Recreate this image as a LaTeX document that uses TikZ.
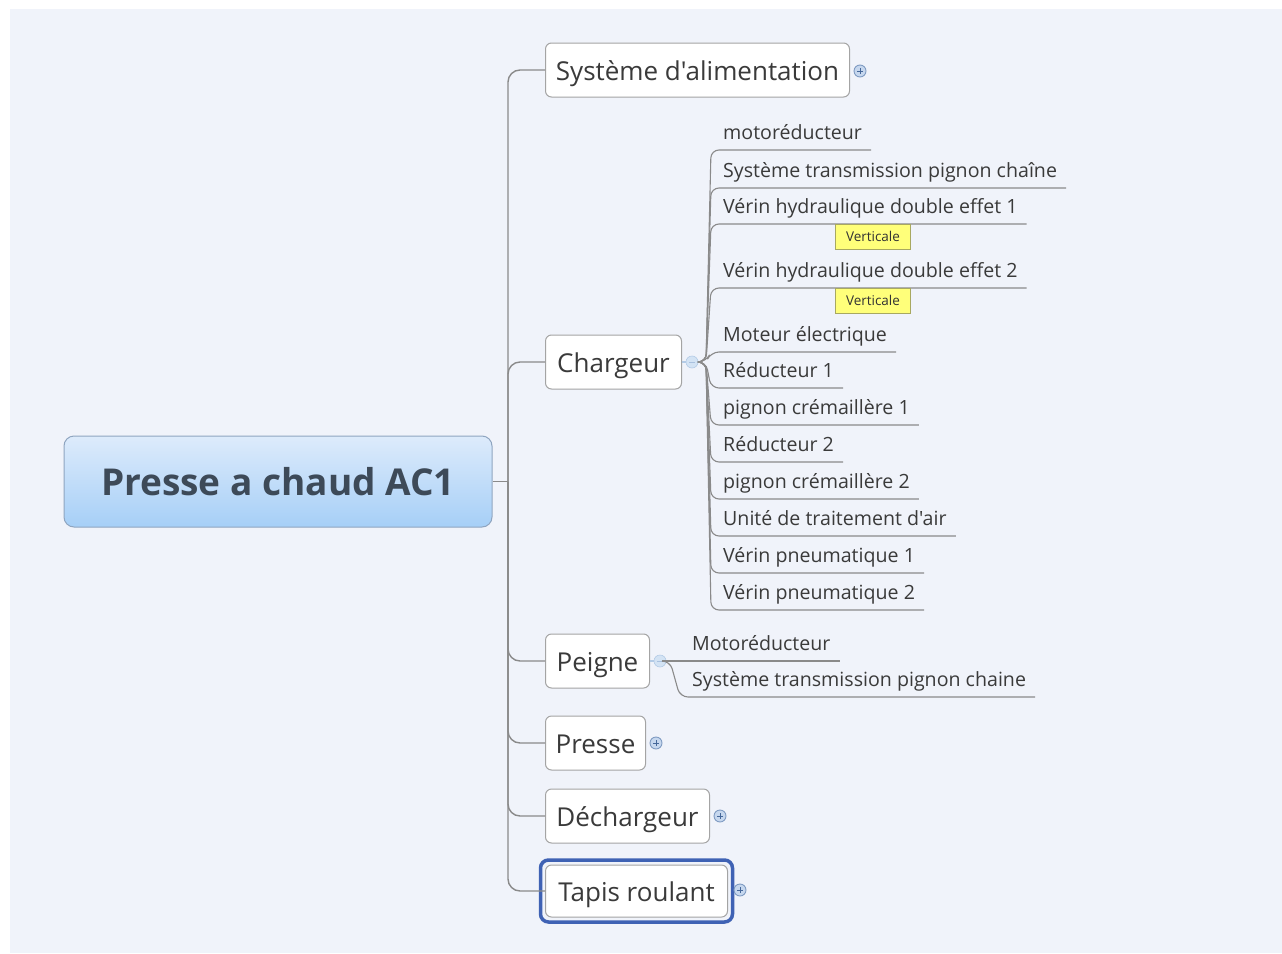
\documentclass[tikz,border=0pt]{standalone}
\usepackage{fontspec}
\setmainfont{Open Sans}[Ligatures=TeXOff]
\usetikzlibrary{calc}
\definecolor{bgc}{HTML}{F0F3FA}
\definecolor{ink}{HTML}{3A3A3A}
\definecolor{rootink}{HTML}{3D4A58}
\definecolor{rootedge}{HTML}{8FA5C0}
\definecolor{roottop}{HTML}{DDEBFB}
\definecolor{rootbot}{HTML}{A6CFF7}
\definecolor{boxedge}{HTML}{A4A4A4}
\definecolor{linegrey}{HTML}{8A8A8A}
\definecolor{selblue}{HTML}{3F62B4}
\definecolor{icfill}{HTML}{C6D7EE}
\definecolor{icedge}{HTML}{7F9BC2}
\definecolor{icmark}{HTML}{46689A}
\definecolor{hubfill}{HTML}{D3E3F4}
\definecolor{hubline}{HTML}{B3CBE6}
\definecolor{notefill}{HTML}{FFFF7A}
\definecolor{noteedge}{HTML}{A8A860}
\begin{document}
\begin{tikzpicture}[x=1pt,y=-1pt,
  root/.style={draw=rootedge, line width=1pt, rounded corners=10pt,
    top color=roottop, bottom color=rootbot, minimum width=428pt,
    minimum height=91pt, text=rootink,
    font=\fontsize{37}{44}\selectfont\bfseries},
  branch/.style={draw=boxedge, line width=1pt, fill=white, rounded corners=6pt,
    anchor=west, minimum height=54pt, inner xsep=10pt, text=ink,
    text height=24pt, text depth=4pt,
    font=\fontsize{26}{31}\selectfont},
  kid/.style={anchor=south west, inner sep=0pt, text height=15pt,
    text depth=10pt, text=ink, font=\fontsize{19.6}{23}\selectfont},
  note/.style={draw=noteedge, fill=notefill, line width=0.8pt,
    minimum width=75pt, minimum height=25pt, inner sep=0pt,
    font=\fontsize{13.5}{16}\selectfont, text=black!80},
  trunk/.style={draw=linegrey, line width=1.4pt, rounded corners=12pt},
  kidline/.style={draw=linegrey, line width=1.1pt, rounded corners=8pt},
  hubl/.style={draw=hubline, line width=1.4pt},
  plusic/.style={circle, fill=icfill, draw=icedge, line width=0.9pt,
    minimum size=12pt, inner sep=0pt,
    path picture={\draw[icmark, line width=0.9pt]
      ($(path picture bounding box.center)+(-2.8,0)$) --
      ($(path picture bounding box.center)+(2.8,0)$)
      ($(path picture bounding box.center)+(0,-2.8)$) --
      ($(path picture bounding box.center)+(0,2.8)$);}},
  minic/.style={circle, fill=hubfill, draw=hubline, line width=0.6pt,
    minimum size=12pt, inner sep=0pt,
    path picture={\draw[hubline!80!icedge, line width=0.9pt]
      ($(path picture bounding box.center)+(-2.6,0)$) --
      ($(path picture bounding box.center)+(2.6,0)$);}}
]
\useasboundingbox (0,0) rectangle (1282,953);
\fill[white] (0,0) rectangle (1282,953);
\fill[bgc] (10,9) rectangle (1282,953);

% central topic
\node[root] (root) at (278,481.5) {Presse a chaud AC1};
\coordinate (fork) at (508,481.5);

% main branches
\node[branch, minimum width=304pt] (sys) at (545,70) {Système d'alimentation};
\node[branch, minimum width=136pt] (charg) at (545,362) {Chargeur};
\node[branch, minimum width=104pt] (peigne) at (545,661) {Peigne};
\node[branch, minimum width=100pt] (presse) at (545,743) {Presse};
\node[branch, minimum width=164pt] (dech) at (545,816) {Déchargeur};
\node[branch, minimum width=182pt, minimum height=52pt] (tapis) at (545,891) {Tapis roulant};
\draw[selblue, line width=3.5pt, rounded corners=8pt]
  ($(tapis.south west)+(-4.5,4.5)$) rectangle ($(tapis.north east)+(4.5,-4.5)$);

\draw[linegrey, line width=1.4pt] (root.east) -- (fork);
\foreach \b in {sys,charg,peigne,presse,dech,tapis}
  \draw[trunk] (fork) |- (\b.west);

% expand / collapse markers
\node[plusic] (sysic) at (860,71) {};
\node[minic] (chargic) at (692,362) {};
\node[minic] (peigneic) at (660,661) {};
\node[plusic] (presseic) at (656,743) {};
\node[plusic] (dechic) at (720,816) {};
\node[plusic] (tapisic) at (740,890) {};
\draw[hubl] (charg.east) -- (chargic.west);
\draw[hubl] (peigne.east) -- (peigneic.west);

% Chargeur sub-topics
\node[kid] (c1) at (723,150) {motoréducteur};
\node[kid] (c2) at (723,188) {Système transmission pignon chaîne};
\node[kid] (c3) at (723,224) {Vérin hydraulique double effet 1};
\node[kid] (c4) at (723,288) {Vérin hydraulique double effet 2};
\node[kid] (c5) at (723,352) {Moteur électrique};
\node[kid] (c6) at (723,388) {Réducteur 1};
\node[kid] (c7) at (723,425) {pignon crémaillère 1};
\node[kid] (c8) at (723,462) {Réducteur 2};
\node[kid] (c9) at (723,499) {pignon crémaillère 2};
\node[kid] (c10) at (723,536) {Unité de traitement d'air};
\node[kid] (c11) at (723,573) {Vérin pneumatique 1};
\node[kid] (c12) at (723,610) {Vérin pneumatique 2};
\foreach \k in {c1,c2,c3,c4,c5,c6,c7,c8,c9,c10,c11,c12}
  \draw[kidline] (chargic.east) -- (706,362) --
    ($(\k.south west)+(-12,0)$) -- ($(\k.south east)+(9,0)$);

\node[note] (n1) at (873,236.5) {Verticale};
\node[note] (n2) at (873,300.5) {Verticale};

% Peigne sub-topics
\node[kid] (p1) at (692,661) {Motoréducteur};
\node[kid] (p2) at (692,697) {Système transmission pignon chaine};
\foreach \k in {p1,p2}
  \draw[kidline] (peigneic.east) -- (670,661) --
    ($(\k.south west)+(-12,0)$) -- ($(\k.south east)+(9,0)$);
\end{tikzpicture}
\end{document}
